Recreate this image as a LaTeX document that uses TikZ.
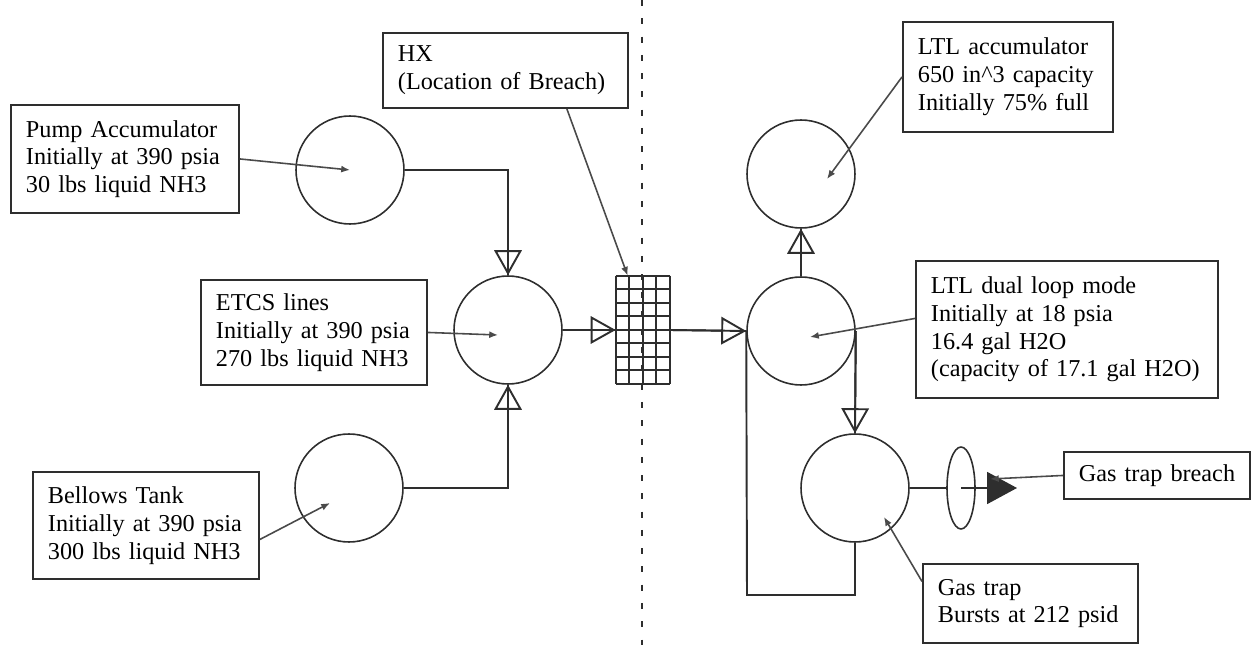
\documentclass[tikz,border=0pt]{standalone}
\usepackage{fontspec}
\setmainfont{Liberation Serif}
\usepackage{tikz}
\usetikzlibrary{calc,arrows.meta,shapes.geometric}
\definecolor{LineGrey}{HTML}{2E2E2E}
\definecolor{PtrGrey}{HTML}{4A4A4A}
\newcommand{\boxfont}{\fontsize{13.8}{15.8}\selectfont}
\tikzset{
  infobox/.style={draw, LineGrey, text=black, line width=1.1pt, anchor=north west,
    inner xsep=0.3cm, inner ysep=0pt, align=left, font=\boxfont},
  tank/.style={draw, LineGrey, circle, minimum size=2.16cm, inner sep=0pt, line width=0.9pt},
  flow/.style={LineGrey, line width=1.1pt, -{Triangle[open,length=0.5cm,width=0.55cm]},
    postaction={draw,arrows=-}},
  pipe/.style={LineGrey, line width=1.1pt},
  pointer/.style={PtrGrey, line width=0.9pt, -{Latex[length=5pt,width=4pt]}},
  divider/.style={LineGrey, line width=1.6pt, dash pattern=on 3.4pt off 7pt},
}

\begin{document}
\begin{tikzpicture}[x=0.02cm, y=-0.02cm]
  \useasboundingbox (0,0) rectangle (1252,645);

  \coordinate (divtop) at (642,0);
  \coordinate (divbot) at (642,645);
  \draw[divider] (divtop) -- (divbot);

  \node[tank] (pump) at (350,170) {};
  \node[tank] (etcs) at (508,330) {};
  \node[tank] (bellows) at (349,488) {};
  \node[tank] (ltlacc) at (801,174) {};
  \node[tank] (ltldual) at (801,331) {};
  \node[tank] (gastrap) at (855,488) {};
  \node[draw, LineGrey, ellipse, minimum width=0.56cm, minimum height=1.64cm,
    inner sep=0pt, line width=0.9pt] (valve) at (961,488) {};

  \node[minimum width=1.08cm, minimum height=2.16cm, inner sep=0pt] (hx) at (643,330) {};
  \foreach \i in {0,...,4}
    \draw[LineGrey, line width=1.3pt] ($(hx.north west)+(\i*13.5,0)$) -- ($(hx.south west)+(\i*13.5,0)$);
  \foreach \j in {0,...,8}
    \draw[LineGrey, line width=1.3pt] ($(hx.north west)+(0,\j*13.5)$) -- ($(hx.north east)+(0,\j*13.5)$);

  \node[infobox, text width=3.96cm, minimum height=2.16cm] (pumpbox) at (10,104)
    {Pump Accumulator\\Initially at 390 psia\\30 lbs liquid NH3};
  \node[infobox, text width=4.3cm, minimum height=1.5cm] (hxbox) at (382,32)
    {HX\\(Location of Breach)};
  \node[infobox, text width=3.92cm, minimum height=2.1cm] (etcsbox) at (200,279)
    {ETCS lines\\Initially at 390 psia\\270 lbs liquid NH3};
  \node[infobox, text width=3.92cm, minimum height=2.14cm] (bellowsbox) at (32,471)
    {Bellows Tank\\Initially at 390 psia\\300 lbs liquid NH3};
  \node[infobox, text width=3.6cm, minimum height=2.2cm] (ltlaccbox) at (902,21)
    {LTL accumulator\\650 in\textasciicircum3 capacity\\Initially 75\% full};
  \node[infobox, text width=5.44cm, minimum height=2.74cm] (ltldualbox) at (915,260)
    {LTL dual loop mode\\Initially at 18 psia\\16.4 gal H2O\\(capacity of 17.1 gal H2O)};
  \node[infobox, text width=3.7cm, minimum height=1.58cm] (gastrapbox) at (922,563)
    {Gas trap\\Bursts at 212 psid};
  \node[infobox, inner xsep=0.3cm, text width=3.12cm, minimum height=0.94cm] (breachbox) at (1063,451)
    {\mbox{Gas trap breach}};

  \draw[flow] (pump.east) -| (etcs.north);
  \draw[flow] (bellows.east) -| (etcs.south);
  \draw[flow] (etcs.east) -- (hx.west);
  \draw[flow] (hx.east) -- (ltldual.west);
  \draw[flow] (ltldual.north) -- (ltlacc.south);
  \draw[flow] (ltldual.east) -- (gastrap.north);
  \coordinate (loopcorner) at (747,595);
  \draw[pipe] (ltldual.west) -- (loopcorner) -| (gastrap.south);
  \draw[pipe] (gastrap.east) -- (valve.west);
  \coordinate (breachtip) at (1017,488);
  \draw[pipe, -{Triangle[length=0.6cm,width=0.64cm]}] (valve.center) -- (breachtip);

  \draw[pointer] (pumpbox.east) -- (pump.center);
  \draw[pointer] (etcsbox.east) -- ($(etcs)+(-10,5)$);
  \draw[pointer] ($(bellowsbox.east)+(0,14)$) -- ($(bellows)+(-19,15)$);
  \draw[pointer] ($(hxbox.south east)+(-62,0)$) -- ($(hx.north west)+(12,0)$);
  \draw[pointer] (ltlaccbox.west) -- ($(ltlacc)+(26,5)$);
  \draw[pointer] ($(ltldualbox.west)+(0,-11)$) -- ($(ltldual)+(9,6)$);
  \draw[pointer] ($(gastrapbox.west)+(0,-22)$) -- ($(gastrap)+(29,29)$);
  \draw[pointer] (breachbox.west) -- ($(breachtip)+(-27,-9)$);
\end{tikzpicture}
\end{document}
